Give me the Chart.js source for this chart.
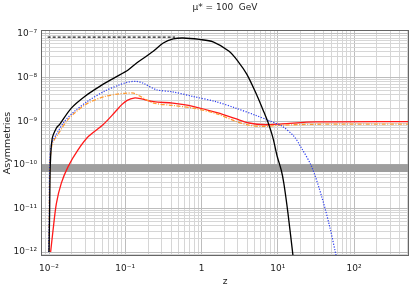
<!DOCTYPE html>
<html lang="en">
<head>
<meta charset="UTF-8" />
<title>Asymmetries vs z</title>
<style>
  html, body { margin: 0; padding: 0; background: #fff; }
  #wrap { width: 415px; height: 287px; position: relative; }
</style>
</head>
<body>
<div id="wrap"><canvas id="asymChart" role="img" aria-label="Asymmetries versus z"></canvas></div>

<script src="https://cdn.jsdelivr.net/npm/chart.js"></script>
<script>
  // values: [z, asymmetry]
  const blackSolid = [
    [0.0100, 1e-12], [0.0102, 1e-11], [0.0104, 1e-10], [0.0110, 4e-10], [0.0125, 7e-10],
    [0.0138, 8.5e-10], [0.0196, 2e-9], [0.0294, 3.7e-9], [0.0463, 6.3e-9], [0.0728, 1.0e-8],
    [0.109, 1.5e-8], [0.141, 2.16e-8], [0.233, 4e-8], [0.315, 6.2e-8], [0.426, 7.7e-8],
    [0.57, 8.1e-8], [0.94, 7.5e-8], [1.42, 6.6e-8], [2.3, 4.0e-8], [3.04, 2.3e-8],
    [3.92, 1.2e-8], [5.3, 4e-9], [6.6, 1.6e-9], [7.7, 8e-10], [8.7, 4e-10],
    [9.84, 1.55e-10], [11.1, 7.6e-11], [12.0, 3.8e-11], [13.6, 7.8e-12], [15.8, 8.5e-13]
  ];
  const blackDashed = [[0.0096, 8.5e-8], [0.45, 8.5e-8]];
  const blueDotted = [
    [0.0099, 1e-12], [0.0101, 1e-11], [0.0102, 1e-10], [0.0108, 3e-10], [0.0125, 5e-10],
    [0.016, 1e-9], [0.0217, 1.7e-9], [0.0324, 2.9e-9], [0.0536, 4.9e-9], [0.08, 6.6e-9],
    [0.106, 7.8e-9], [0.139, 8.2e-9], [0.17, 7.5e-9], [0.254, 5.3e-9], [0.42, 4.7e-9],
    [0.77, 3.7e-9], [1.55, 2.8e-9], [2.8, 2e-9], [5.1, 1.37e-9], [7.7, 1.03e-9],
    [11.5, 7.6e-10], [16.3, 4.5e-10], [20, 2.6e-10], [27.8, 9.1e-11], [37.7, 1.86e-11],
    [48, 3.8e-12], [58, 8.5e-13]
  ];
  const orangeDashDot = [
    [0.0100, 1e-12], [0.0103, 1e-10], [0.0110, 3e-10], [0.013, 4.9e-10], [0.017, 1e-9],
    [0.0217, 1.55e-9], [0.0324, 2.6e-9], [0.054, 3.7e-9], [0.08, 4.2e-9], [0.106, 4.4e-9],
    [0.129, 4.4e-9], [0.158, 3.7e-9], [0.237, 2.6e-9], [0.42, 2.3e-9], [0.77, 2e-9],
    [1.55, 1.5e-9], [2.8, 1e-9], [4.2, 8.1e-10], [6.3, 7.6e-10], [11.5, 8.1e-10],
    [30, 8.5e-10], [520, 8.6e-10]
  ];
  const redSolid = [
    [0.0105, 1e-12], [0.0113, 3.2e-12], [0.0125, 1.3e-11], [0.0145, 3.8e-11], [0.0178, 9.1e-11],
    [0.024, 2.2e-10], [0.033, 4.5e-10], [0.051, 8.3e-10], [0.073, 1.6e-9], [0.09, 2.4e-9],
    [0.106, 3.0e-9], [0.13, 3.4e-9], [0.158, 3.3e-9], [0.237, 2.8e-9], [0.42, 2.6e-9],
    [0.77, 2.2e-9], [1.64, 1.55e-9], [2.8, 1.14e-9], [4.2, 9.1e-10], [6.9, 8.3e-10],
    [11.5, 8.7e-10], [31.5, 9.6e-10], [520, 9.8e-10]
  ];
  const bandZ = [0.00785, 526];
  const bandLow = 6.8e-11;
  const bandHigh = 1.03e-10;

  const xMin = 0.00785, xMax = 526;
  const yMin = 8.1e-13, yMax = 1.235e-7;
  const xDecades = [-3, -2, -1, 0, 1, 2];
  const yDecades = [-13, -12, -11, -10, -9, -8, -7];

  const sup = { '-': '\u207B', '0': '\u2070', '1': '\u00B9', '2': '\u00B2', '3': '\u00B3',
    '4': '\u2074', '5': '\u2075', '6': '\u2076', '7': '\u2077', '8': '\u2078', '9': '\u2079' };

  function isDecade(v) {
    const e = Math.round(Math.log10(v));
    return Math.abs(v / Math.pow(10, e) - 1) < 1e-6;
  }
  function powLabel(v, plainOne) {
    if (!isDecade(v)) return '';
    const e = Math.round(Math.log10(v));
    if (plainOne && e === 0) return '1';
    return '10' + String(e).split('').map(c => sup[c]).join('');
  }
  function allTicks(decades, lo, hi) {
    const out = [];
    decades.forEach(d => {
      for (let k = 1; k <= 9; k++) {
        const v = k * Math.pow(10, d);
        if (v >= lo * 0.9999 && v <= hi * 1.0001) out.push({ value: v });
      }
    });
    return out;
  }
  const toXY = arr => arr.map(p => ({ x: p[0], y: p[1] }));

  const frame = {
    id: 'frame',
    afterDraw(chart) {
      const a = chart.chartArea, c = chart.ctx;
      c.save();
      c.strokeStyle = '#666';
      c.lineWidth = 1;
      c.strokeRect(a.left + 0.5, a.top + 0.5, a.right - a.left - 1, a.bottom - a.top - 1);
      c.restore();
    }
  };

  const gridColor = ctx => (ctx.tick && isDecade(ctx.tick.value)) ? '#bdbdbd' : '#d6d6d6';
  const font = { family: "'DejaVu Sans', sans-serif", size: 9 };

  new Chart(document.getElementById('asymChart'), {
    type: 'line',
    data: {
      datasets: [
        { data: bandZ.map(z => ({ x: z, y: bandHigh })), borderWidth: 0, pointRadius: 0,
          backgroundColor: '#9e9e9e', fill: '+1', order: 10 },
        { data: bandZ.map(z => ({ x: z, y: bandLow })), borderWidth: 0, pointRadius: 0,
          backgroundColor: '#9e9e9e', fill: false, order: 10 },
        { data: toXY(blackDashed), borderColor: '#222', borderWidth: 1.2, borderDash: [3, 2],
          pointRadius: 0, fill: false, order: 5 },
        { data: toXY(redSolid), borderColor: '#ff1a1a', borderWidth: 1.3, pointRadius: 0,
          fill: false, tension: 0.3, order: 4 },
        { data: toXY(orangeDashDot), borderColor: '#ff9a30', borderWidth: 1.3, borderDash: [4, 1.5, 1, 1.5],
          pointRadius: 0, fill: false, tension: 0.3, order: 3 },
        { data: toXY(blueDotted), borderColor: '#2b3cf0', borderWidth: 1.2, borderDash: [1.2, 1.5],
          pointRadius: 0, fill: false, tension: 0.3, order: 2 },
        { data: toXY(blackSolid), borderColor: '#000', borderWidth: 1.3, pointRadius: 0,
          fill: false, tension: 0.3, order: 1 }
      ]
    },
    options: {
      responsive: true,
      maintainAspectRatio: false,
      animation: false,
      events: [],
      layout: { padding: { left: 0, right: 6, top: 0, bottom: 0 } },
      scales: {
        x: {
          type: 'logarithmic', min: xMin, max: xMax,
          afterBuildTicks: s => { s.ticks = allTicks(xDecades, xMin, xMax); },
          afterFit: s => { s.height = 31; },
          ticks: { autoSkip: false, maxRotation: 0, padding: 7, color: '#222', font,
                   callback: v => powLabel(v, true) },
          grid: { color: gridColor, drawTicks: false, lineWidth: 1 },
          border: { display: false },
          title: { display: true, text: 'z', color: '#222', font, padding: { top: 0, bottom: 0 } }
        },
        y: {
          type: 'logarithmic', min: yMin, max: yMax,
          afterBuildTicks: s => { s.ticks = allTicks(yDecades, yMin, yMax); },
          afterFit: s => { s.width = 41; },
          ticks: { autoSkip: false, padding: 4, color: '#222', font,
                   callback: v => powLabel(v, false) },
          grid: { color: gridColor, drawTicks: false, lineWidth: 1 },
          border: { display: false },
          title: { display: true, text: 'Asymmetries', color: '#222',
                   font: { family: "'DejaVu Sans', sans-serif", size: 9.5 }, padding: { top: 2, bottom: 0 } }
        }
      },
      plugins: {
        legend: { display: false },
        tooltip: { enabled: false },
        title: {
          display: true, fullSize: false, text: '\u03BC* = 100  GeV', color: '#222',
          font: { family: "'DejaVu Sans', sans-serif", size: 9, weight: 'normal' },
          padding: { top: 2, bottom: 17.2 }
        }
      }
    },
    plugins: [frame]
  });
</script>
</body>
</html>
